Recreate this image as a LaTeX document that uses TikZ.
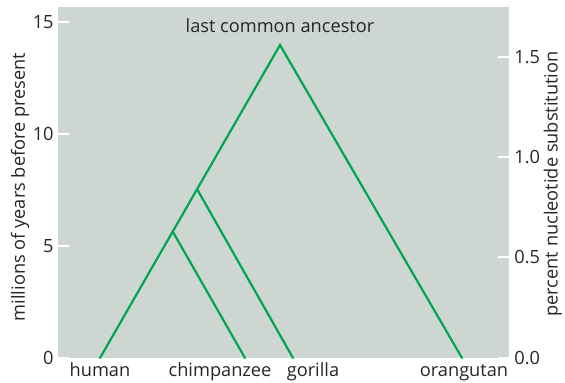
\documentclass[tikz,border=0pt]{standalone}
\usepackage{fontspec}
\setmainfont{Open Sans}
\usetikzlibrary{positioning,calc}
\definecolor{panelgray}{RGB}{206,214,210}
\definecolor{treegreen}{RGB}{0,166,81}

\begin{document}
\begin{tikzpicture}[
  x=0.5pt, y=-0.5pt,
  every node/.style={font=\fontsize{9.1}{11}\selectfont, text=black!85},
  branch/.style={treegreen, line width=1.1pt, line cap=round},
  tick/.style={white, line width=0.6pt},
  taxon/.style={anchor=base, inner sep=0pt},
  axlab/.style={rotate=90, inner sep=0pt}
]
\useasboundingbox (0,0) rectangle (565,383);

% --- panel ---
\fill[panelgray] (58,7) rectangle (509,358);

% --- left axis (millions of years) ---
\foreach \v/\y in {0/358, 5/246, 10/134, 15/22} {
  \draw[tick] (58,\y) -- (69,\y);
  \node[anchor=east, inner sep=0pt] at (54,\y) {\v};
}
\node[axlab] (mya) at (20,187) {millions of years before present};

% --- right axis (percent substitution) ---
\foreach \v/\y in {0.0/358, 0.5/257, 1.0/157, 1.5/57} {
  \draw[tick] (498,\y) -- (509,\y);
  \node[anchor=west, inner sep=0pt] at (514,\y) {\v};
}
\node[axlab] (pct) at (553,184) {percent nucleotide substitution};

% --- tree points ---
\coordinate (human) at (100,358);
\coordinate (chimp) at (245,358);
\coordinate (gor)   at (293,358);
\coordinate (orang) at (462,358);
\coordinate (root)  at (280,45);
\coordinate (hc)    at (173,232);
\coordinate (hcg)   at (197,189);

% --- branches ---
\draw[branch] (human) -- (root) -- (orang);
\draw[branch] (hc) -- (chimp);
\draw[branch] (hcg) -- (gor);

% --- labels ---
\node[anchor=base] (anc) at (280,33) {last common ancestor};
\node[taxon] (lhuman) at (100,376) {human};
\node[taxon] (lchimp) at (220,376) {chimpanzee};
\node[taxon] (lgor)   at (313,376) {gorilla};
\node[taxon] (lorang) at (464,376) {orangutan};

\end{tikzpicture}
\end{document}
